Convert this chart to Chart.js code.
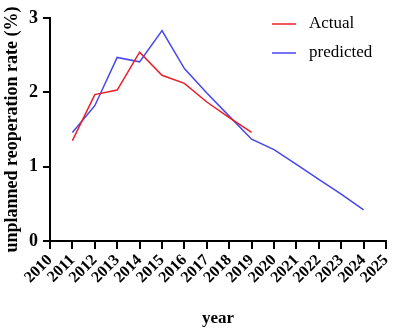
<!DOCTYPE html>
<html>
<head>
<meta charset="utf-8">
<script src="https://cdn.jsdelivr.net/npm/chart.js@4/dist/chart.umd.min.js"></script>
<style>
html,body{margin:0;padding:0;background:#fff;}
#wrap{width:394px;height:333px;position:relative;}
</style>
</head>
<body>
<div id="wrap"><canvas id="c" width="394" height="333"></canvas></div>
<script>
const years = ['2010','2011','2012','2013','2014','2015','2016','2017','2018','2019','2020','2021','2022','2023','2024','2025'];
const actual = [null, 1.35, 1.97, 2.03, 2.54, 2.23, 2.12, 1.87, 1.66, 1.46, null, null, null, null, null, null];
const predicted = [null, 1.46, 1.82, 2.47, 2.41, 2.83, 2.32, 1.99, 1.68, 1.37, 1.23, 1.03, 0.83, 0.63, 0.42, null];
const yTicks = [0, 1, 2, 3];

const serif = '"Liberation Serif", "Times New Roman", serif';

const legendPlugin = {
  id: 'insideLegend',
  afterDraw(chart) {
    const ctx = chart.ctx;
    const ca = chart.chartArea;
    ctx.save();
    chart.data.datasets.forEach((ds, i) => {
      const y = ca.top + 6 + i * 29;
      const x0 = ca.right - 114;
      ctx.strokeStyle = ds.borderColor;
      ctx.lineWidth = 1.5;
      ctx.beginPath();
      ctx.moveTo(x0, y);
      ctx.lineTo(x0 + 24, y);
      ctx.stroke();
      ctx.fillStyle = '#000';
      ctx.font = '17px ' + serif;
      ctx.textBaseline = 'middle';
      ctx.textAlign = 'left';
      ctx.fillText(ds.label, x0 + 37, y);
    });
    ctx.restore();
  }
};

new Chart(document.getElementById('c'), {
  type: 'line',
  data: {
    labels: years,
    datasets: [
      { label: 'Actual', data: actual, borderColor: 'rgb(235,30,40)', backgroundColor: 'rgb(235,30,40)', borderWidth: 1.5, pointRadius: 0, tension: 0, spanGaps: false },
      { label: 'predicted', data: predicted, borderColor: 'rgb(70,70,240)', backgroundColor: 'rgb(70,70,240)', borderWidth: 1.5, pointRadius: 0, tension: 0, spanGaps: false }
    ]
  },
  options: {
    responsive: false,
    animation: false,
    layout: { padding: { left: 0, right: 0, top: 18, bottom: 0 } },
    plugins: { legend: { display: false }, tooltip: { enabled: false } },
    scales: {
      x: {
        type: 'category',
        offset: false,
        grid: { display: true, drawOnChartArea: false, drawTicks: true, tickLength: 8, color: '#000', lineWidth: 2 },
        border: { display: true, color: '#000', width: 2 },
        ticks: { autoSkip: false, minRotation: 45, maxRotation: 45, padding: 2, color: '#000', font: { family: serif, size: 16, weight: 'bold' } },
        title: { display: true, text: 'year', color: '#000', font: { family: serif, size: 17, weight: 'bold' }, padding: { top: 0, bottom: 4 } },
        afterFit(scale) { scale.height = 92; scale.paddingRight = 8; }
      },
      y: {
        min: 0, max: 3,
        afterBuildTicks(scale) { scale.ticks = yTicks.map(v => ({ value: v })); },
        grid: { display: true, drawOnChartArea: false, drawTicks: true, tickLength: 7, color: '#000', lineWidth: 2 },
        border: { display: true, color: '#000', width: 2 },
        ticks: { padding: 5, color: '#000', font: { family: serif, size: 18, weight: 'bold' } },
        title: { display: true, text: 'unplanned reoperation rate (%)', color: '#000', font: { family: serif, size: 18, weight: 'bold' }, padding: { top: 2, bottom: 0 } },
        afterFit(scale) { scale.width = 50; }
      }
    }
  },
  plugins: [legendPlugin]
});
</script>
</body>
</html>
